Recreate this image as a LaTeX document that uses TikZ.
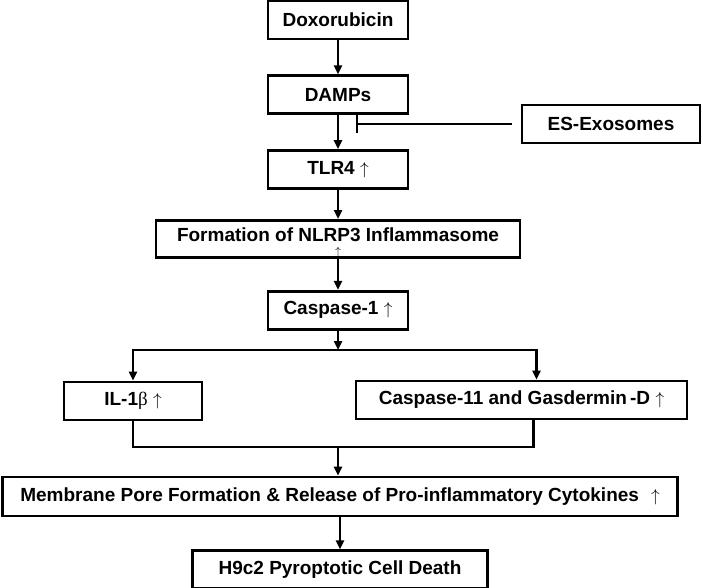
\documentclass[tikz,border=0pt]{standalone}
\usepackage{fontspec}
\setmainfont{Liberation Sans}
\newfontfamily\greekfont{Liberation Serif}
\usetikzlibrary{positioning,arrows.meta}

\begin{document}
\begin{tikzpicture}[x=1pt, y=1pt, node distance=33pt and 20pt, >={Triangle[length=9pt,width=8pt]},
  box/.style={draw, line width=2.8pt, minimum height=38pt, inner sep=3pt, font=\bfseries\fontsize{19}{22}\selectfont},
  link/.style={line width=2.3pt},
  inhibit/.style={-{Bar[width=18pt]}, line width=2.3pt}]
\useasboundingbox (0,0) rectangle (703,-588);

% Main chain
\node[box, minimum width=140pt] (doxo) at (338,-20) {Doxorubicin};
\node[box, minimum width=140pt, below=34pt of doxo] (damps) {DAMPs};
\node[box, minimum width=140pt, below=34pt of damps] (tlr4) {TLR4 $\uparrow$};
\node[box, minimum width=364pt, minimum height=37pt, text depth=8pt, below=29pt of tlr4] (nlrp3) {Formation of NLRP3 Inflammasome};
\node[anchor=south, inner sep=0pt, yshift=1pt, font=\fontsize{13}{14}\selectfont] (nlrpup) at (nlrp3.south) {$\uparrow$};
\node[box, minimum width=140pt, below=31pt of nlrp3] (casp1) {Caspase-1 $\uparrow$};

% Inhibitor
\node[box, minimum width=178pt] (exo) at (611,-124) {ES-Exosomes};
\coordinate (blk) at ([xshift=18pt]damps.south |- exo.west);

% Branches
\node[box, minimum width=138pt] (il1b) at (133,-401) {IL-1{\mdseries\greekfont β} $\uparrow$};
\node[box, minimum width=331pt] (casp11) at (521.5,-400) {Caspase-11 and Gasdermin\,-D $\uparrow$};
\coordinate (split) at (338,-350);
\coordinate (join) at (338,-447);

% Bottom
\node[box, minimum width=675pt, minimum height=39pt] (membrane) at (340,-496.5) {Membrane Pore Formation \& Release of Pro-inflammatory Cytokines\hspace{12pt}$\uparrow$};
\node[box, minimum width=295pt, below=32pt of membrane] (h9c2) {H9c2 Pyroptotic Cell Death};

% Connections
\foreach \a/\b in {doxo/damps,damps/tlr4,tlr4/nlrp3,nlrp3/casp1}
    \draw[link, ->] (\a) -- (\b);
\draw[inhibit, shorten <=9pt] (exo.west) -- (blk);

\draw[link, ->] (casp1) -- (split);
\draw[link, ->] (split) -| (il1b.north);
\draw[link, ->] (split) -| ([xshift=15pt]casp11.north);
\draw[link] (il1b.south) |- (join);
\draw[link] ([xshift=12pt]casp11.south) |- (join);
\draw[link, ->] (join) -- (join |- membrane.north);
\draw[link, ->] (membrane) -- (h9c2);
\end{tikzpicture}
\end{document}
